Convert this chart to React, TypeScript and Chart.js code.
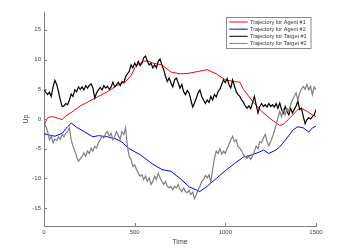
import React, { useEffect, useRef } from "react";
import { Chart, registerables } from "chart.js";

Chart.register(...registerables);

// Time step for target trajectories (every 10 time units, 0..1500)
const targetStep = 10;

const target1: number[] = [
  5.0, 4.5, 4.1, 4.5, 3.8, 5.4, 6.5, 5.8, 4.6, 3.2,
  2.1, 2.2, 2.6, 2.4, 3.2, 4.2, 3.8, 4.9, 4.6, 5.4,
  5.0, 5.4, 4.9, 5.6, 5.2, 5.7, 5.9, 5.2, 3.5, 4.4,
  4.9, 5.3, 4.9, 5.6, 5.2, 5.5, 5.0, 5.4, 6.2, 5.4,
  5.8, 6.2, 5.6, 6.3, 6.1, 7.1, 7.6, 8.0, 9.1, 8.6,
  9.4, 8.9, 9.7, 9.0, 9.4, 10.3, 10.6, 9.7, 9.1, 9.4,
  8.6, 9.1, 8.6, 9.7, 10.1, 9.1, 8.3, 7.2, 6.3, 6.9,
  6.1, 5.4, 6.6, 6.9, 6.1, 5.2, 5.8, 4.6, 4.1, 4.8,
  4.4, 3.2, 2.0, 2.7, 3.5, 4.4, 4.9, 3.8, 3.2, 2.6,
  3.2, 2.8, 3.8, 3.2, 4.1, 3.7, 4.6, 5.0, 5.8, 6.6,
  6.1, 6.8, 5.8, 5.2, 6.6, 5.6, 4.6, 4.1, 3.8, 3.2,
  2.8, 2.2, 1.8, 2.2, 1.7, 2.7, 3.8, 2.4, 1.0, 2.1,
  2.6, 2.1, 2.4, 2.0, 2.6, 2.1, 2.4, 2.0, 2.6, 1.8,
  2.7, 1.6, 1.0, 2.1, 1.3, 0.7, 1.8, 1.0, 1.6, 2.2,
  3.0, 1.6, 1.8, 0.4, -0.8, -0.1, 0.2, 0.0, 0.4, 0.7,
  1.6,
];

const target2: number[] = [
  -0.7, -1.2, -2.1, -3.5, -2.9, -4.0, -3.4, -3.6, -3.0, -3.4,
  -2.6, -3.0, -2.4, -2.1, -1.5, -3.5, -4.6, -5.4, -6.3, -7.1,
  -6.7, -6.3, -5.7, -6.3, -5.4, -5.8, -4.9, -5.4, -4.6, -4.9,
  -4.0, -3.5, -2.9, -3.2, -2.4, -2.1, -2.9, -2.4, -3.5, -2.9,
  -2.1, -2.8, -3.4, -2.1, -2.6, -1.5, -4.6, -6.3, -6.8, -8.0,
  -7.7, -8.5, -9.1, -9.6, -9.4, -10.2, -9.6, -10.5, -9.9, -11.0,
  -10.5, -9.6, -10.2, -9.1, -9.9, -10.5, -11.0, -10.5, -11.3, -11.6,
  -11.3, -11.9, -11.3, -11.6, -11.0, -11.8, -12.2, -11.6, -12.2, -12.4,
  -12.0, -12.7, -12.3, -13.4, -12.7, -11.9, -11.3, -10.5, -10.2, -9.5,
  -9.9, -9.4, -10.6, -8.5, -6.6, -5.4, -5.8, -5.0, -5.9, -5.4,
  -5.8, -4.9, -4.3, -3.5, -2.9, -3.8, -3.5, -4.6, -4.9, -5.4,
  -6.0, -6.3, -6.6, -6.2, -6.8, -6.3, -5.4, -4.6, -5.0, -3.8,
  -4.0, -3.2, -2.6, -3.8, -4.5, -3.8, -3.0, -2.1, -1.0, 0.2,
  1.3, 0.4, 1.6, 0.7, 1.8, 1.3, 2.4, 3.2, 3.8, 4.4,
  3.2, 4.4, 5.0, 5.5, 5.0, 5.8, 4.9, 5.5, 4.1, 5.4,
  4.9,
];

const agent1Time: number[] = [
  0, 10, 20, 40, 60, 80, 100, 120, 160, 200, 250, 300, 350, 400, 450, 480, 500,
  520, 550, 570, 600, 650, 700, 750, 800, 850, 900, 950, 1000, 1050, 1080, 1100,
  1150, 1200, 1250, 1300, 1320, 1350, 1400, 1420, 1450, 1480, 1500,
];
const agent1Up: number[] = [
  -1.2, -0.4, 0.2, 0.4, 0.3, 0.1, -0.1, 0.5, 1.3, 2.2, 3.0, 3.8, 4.6, 5.6, 6.3,
  7.3, 8.6, 9.2, 9.7, 9.8, 9.4, 9.1, 7.9, 7.6, 7.7, 8.0, 8.3, 7.6, 6.6, 6.3, 6.2,
  5.0, 3.0, 1.3, 0.0, -1.1, -0.9, 0.0, 1.6, 1.8, 1.3, 0.7, 0.4,
];

const agent2Time: number[] = [
  0, 30, 60, 100, 130, 150, 180, 220, 270, 300, 350, 400, 430, 470, 530, 600,
  650, 700, 750, 800, 860, 900, 950, 1000, 1050, 1100, 1150, 1200, 1210, 1240,
  1280, 1300, 1340, 1375, 1400, 1430, 1460, 1480, 1500,
];
const agent2Up: number[] = [
  -2.5, -2.7, -2.9, -2.4, -1.3, -0.7, -1.4, -2.1, -3.0, -2.8, -3.0, -3.4, -3.9,
  -5.0, -6.0, -7.6, -8.5, -8.8, -10.0, -11.4, -12.2, -11.3, -10.0, -8.7, -7.5,
  -6.4, -6.0, -5.4, -5.2, -5.8, -5.2, -4.7, -3.2, -1.8, -1.3, -1.5, -2.2, -1.5,
  -1.2,
];

const seriesLabels: string[] = [
  "Trajectory for Agent #1",
  "Trajectory for Agent #2",
  "Trajectory for Target #1",
  "Trajectory for Target #2",
];
const seriesColors: string[] = ["#ff0000", "#0000ff", "#000000", "#808080"];

const xTicks: number[] = [0, 500, 1000, 1500];
const yTicks: number[] = [-15, -10, -5, 0, 5, 10, 15];
const xTitle = "Time";
const yTitle = "Up";

const FONT = "'Liberation Sans', Arial, Helvetica, sans-serif";

const toXY = (xs: number[], ys: number[]) => ys.map((y, i) => ({ x: xs[i], y }));
const stepXY = (ys: number[], step: number) => ys.map((y, i) => ({ x: i * step, y }));

const decorPlugin = {
  id: "decor",
  afterDraw(chart: any) {
    const ctx = chart.ctx;
    const { left, right, top, bottom } = chart.chartArea;
    const xs = chart.scales.x;
    const ys = chart.scales.y;
    ctx.save();
    // inward tick marks
    ctx.strokeStyle = "#808080";
    ctx.lineWidth = 1;
    ctx.beginPath();
    for (const v of xTicks) {
      const px = Math.round(xs.getPixelForValue(v)) + 0.5;
      ctx.moveTo(px, bottom);
      ctx.lineTo(px, bottom - 3);
    }
    for (const v of yTicks) {
      const py = Math.round(ys.getPixelForValue(v)) + 0.5;
      ctx.moveTo(left, py);
      ctx.lineTo(left + 3, py);
    }
    ctx.stroke();

    // axis titles
    ctx.fillStyle = "#444";
    ctx.font = `7px ${FONT}`;
    ctx.textAlign = "center";
    ctx.textBaseline = "middle";
    ctx.fillText(xTitle, (left + right) / 2, 242.5);
    ctx.save();
    ctx.translate(26.5, (top + bottom) / 2);
    ctx.rotate(-Math.PI / 2);
    ctx.fillText(yTitle, 0, 0);
    ctx.restore();

    // legend
    const bx = 226.5, by = 17.5, bw = 84.5, bh = 31;
    ctx.fillStyle = "#ffffff";
    ctx.fillRect(bx, by, bw, bh);
    ctx.strokeStyle = "#8a8a8a";
    ctx.strokeRect(bx, by, bw, bh);
    ctx.font = `5.5px ${FONT}`;
    ctx.textAlign = "left";
    ctx.textBaseline = "middle";
    seriesLabels.forEach((lab, i) => {
      const ry = 22 + i * 7.15;
      ctx.strokeStyle = seriesColors[i];
      ctx.lineWidth = 1;
      ctx.beginPath();
      ctx.moveTo(229.3, ry);
      ctx.lineTo(247.7, ry);
      ctx.stroke();
      ctx.fillStyle = "#333";
      ctx.fillText(lab, 250, ry);
    });
    ctx.restore();
  },
};

export default function App() {
  const canvasRef = useRef<HTMLCanvasElement | null>(null);

  useEffect(() => {
    if (!canvasRef.current) return;
    const common = { pointRadius: 0, fill: false, tension: 0 };
    const chart = new Chart(canvasRef.current, {
      type: "line",
      data: {
        datasets: [
          { ...common, borderWidth: 1, label: seriesLabels[0], data: toXY(agent1Time, agent1Up), borderColor: seriesColors[0], order: 3 },
          { ...common, borderWidth: 1, label: seriesLabels[1], data: toXY(agent2Time, agent2Up), borderColor: seriesColors[1], order: 2 },
          { ...common, borderWidth: 1.2, label: seriesLabels[2], data: stepXY(target1, targetStep), borderColor: seriesColors[2], order: 1 },
          { ...common, borderWidth: 1.2, label: seriesLabels[3], data: stepXY(target2, targetStep), borderColor: seriesColors[3], order: 0 },
        ],
      },
      options: {
        animation: false,
        responsive: true,
        maintainAspectRatio: false,
        layout: { padding: { left: 8, right: 32, top: 12, bottom: 0 } },
        plugins: { legend: { display: false }, tooltip: { enabled: false } },
        scales: {
          x: {
            type: "linear",
            min: 0,
            max: 1500,
            grid: { display: false, drawTicks: false },
            border: { display: true, color: "#808080", width: 1 },
            afterBuildTicks: (s: any) => { s.ticks = xTicks.map((v) => ({ value: v })); },
            afterFit: (s: any) => { s.height = 22; },
            ticks: { padding: 3, color: "#444", font: { family: FONT, size: 6 }, maxRotation: 0, callback: (v: any) => String(v) },
          },
          y: {
            type: "linear",
            min: -18,
            max: 18,
            grid: { display: false, drawTicks: false },
            border: { display: true, color: "#808080", width: 1 },
            afterBuildTicks: (s: any) => { s.ticks = yTicks.map((v) => ({ value: v })); },
            afterFit: (s: any) => { s.width = 36; },
            ticks: { padding: 3, color: "#444", font: { family: FONT, size: 6 }, callback: (v: any) => String(v) },
          },
        },
      },
      plugins: [decorPlugin],
    } as any);
    return () => chart.destroy();
  }, []);

  return (
    <div style={{ position: "fixed", left: 0, top: 0, width: 348, height: 248, background: "#fff" }}>
      <canvas ref={canvasRef} />
    </div>
  );
}
